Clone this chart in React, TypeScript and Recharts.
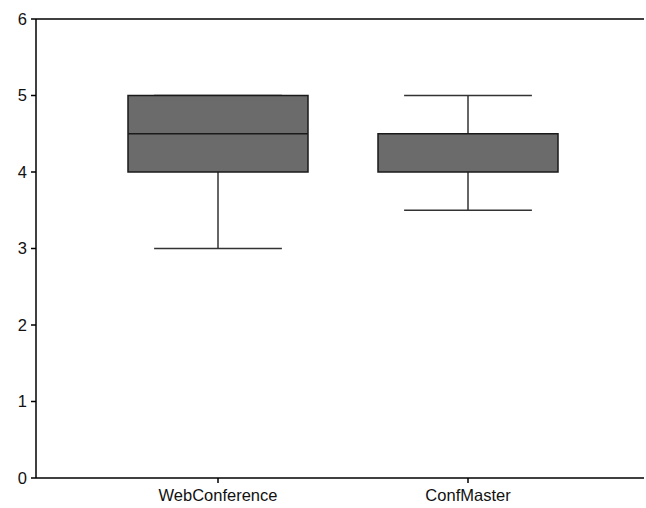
import { ComposedChart, Bar, XAxis, YAxis, ReferenceLine } from "recharts";

const categories = ["WebConference", "ConfMaster"];
const mins = [3, 3.5];
const q1s = [4, 4];
const medians = [4.5, 4];
const q3s = [5, 4.5];
const maxs = [5, 5];
const yTicks = [0, 1, 2, 3, 4, 5, 6];

const data = categories.map((name, i) => ({
  name,
  min: mins[i],
  q1: q1s[i],
  median: medians[i],
  q3: q3s[i],
  max: maxs[i],
  range: [mins[i], maxs[i]],
}));

// draws the whole box + whiskers from the range bar's pixel extent
const BoxShape = (props: any) => {
  const { x, y, width, height, payload } = props;
  const { min, q1, median, q3, max } = payload;
  const top = Math.min(y, y + height);
  const h = Math.abs(height);
  const unit = h / (max - min);
  const py = (v: number) => top + (max - v) * unit;
  const cx = x + width / 2;
  const cap = width * 0.71;
  const line = "#333333";
  return (
    <g>
      <line x1={cx} x2={cx} y1={py(max)} y2={py(q3)} stroke={line} strokeWidth={1.5} />
      <line x1={cx} x2={cx} y1={py(q1)} y2={py(min)} stroke={line} strokeWidth={1.5} />
      <line x1={cx - cap / 2} x2={cx + cap / 2} y1={py(max)} y2={py(max)} stroke={line} strokeWidth={1.5} />
      <line x1={cx - cap / 2} x2={cx + cap / 2} y1={py(min)} y2={py(min)} stroke={line} strokeWidth={1.5} />
      <rect
        x={x}
        y={py(q3)}
        width={width}
        height={py(q1) - py(q3)}
        fill="#6b6b6b"
        stroke="#1a1a1a"
        strokeWidth={1.5}
      />
      {median !== q1 && median !== q3 && (
        <line x1={x} x2={x + width} y1={py(median)} y2={py(median)} stroke="#1a1a1a" strokeWidth={1.5} />
      )}
    </g>
  );
};

export default function App() {
  const fam = "'Liberation Sans', Arial, sans-serif";
  return (
    <div style={{ position: "absolute", left: 0, top: 0, width: 646, height: 508, background: "#fff" }}>
      <ComposedChart
        width={646}
        height={508}
        data={data}
        margin={{ top: 19, right: 2, left: 0, bottom: 0 }}
        barSize={180}
      >
        <XAxis
          dataKey="name"
          padding={{ left: 57, right: 51 }}
          height={30}
          stroke="#000"
          strokeWidth={1.5}
          tickSize={5}
          fontSize={16.5}
          fontFamily={fam}
          tick={{ fill: "#111", dy: 4 }}
          interval={0}
        />
        <YAxis
          domain={[0, 6]}
          ticks={yTicks}
          width={36}
          stroke="#000"
          strokeWidth={1.5}
          tickSize={5}
          fontSize={16.5}
          fontFamily={fam}
          tick={{ fill: "#111", dx: -2 }}
          allowDataOverflow
        />
        <ReferenceLine y={6} stroke="#000" strokeWidth={1.5} />
        <Bar dataKey="range" shape={BoxShape} isAnimationActive={false} />
      </ComposedChart>
    </div>
  );
}
